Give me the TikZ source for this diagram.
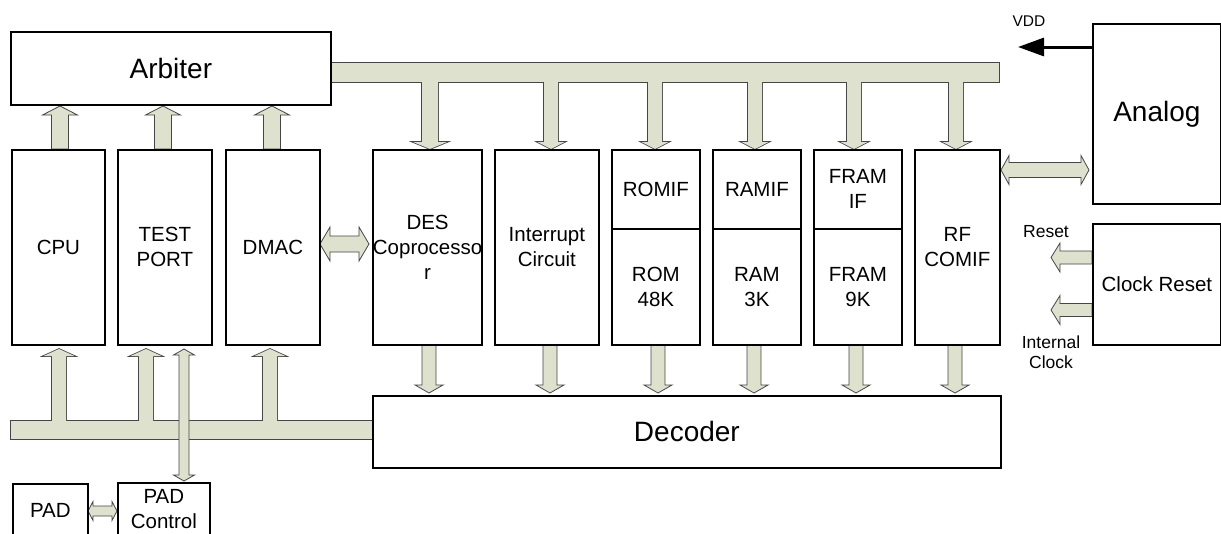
\documentclass[tikz,border=0pt]{standalone}
\usepackage{fontspec}
\setmainfont{Liberation Sans}
\usetikzlibrary{arrows.meta}
\definecolor{busfill}{RGB}{221,225,205}
\definecolor{busline}{RGB}{70,70,70}
% vertical fat arrow: x, ybase, yhead, ytip, shaft half, head half
\newcommand\varr[6]{(#1-#5,#2) -- (#1-#5,#3) -- (#1-#6,#3) -- (#1,#4) -- (#1+#6,#3) -- (#1+#5,#3) -- (#1+#5,#2) -- cycle}
% horizontal fat arrow: y, xbase, xhead, xtip, shaft half, head half
\newcommand\harr[6]{(#2,#1-#5) -- (#3,#1-#5) -- (#3,#1-#6) -- (#4,#1) -- (#3,#1+#6) -- (#3,#1+#5) -- (#2,#1+#5) -- cycle}
% horizontal double arrow: y, x1, x2, head length, shaft half, head half
\newcommand\hdarr[6]{(#2,#1) -- (#2+#4,#1-#6) -- (#2+#4,#1-#5) -- (#3-#4,#1-#5) -- (#3-#4,#1-#6) -- (#3,#1) -- (#3-#4,#1+#6) -- (#3-#4,#1+#5) -- (#2+#4,#1+#5) -- (#2+#4,#1+#6) -- cycle}
% vertical double arrow: x, y1, y2, head length, shaft half, head half
\newcommand\vdarr[6]{(#1,#2) -- (#1-#6,#2+#4) -- (#1-#5,#2+#4) -- (#1-#5,#3-#4) -- (#1-#6,#3-#4) -- (#1,#3) -- (#1+#6,#3-#4) -- (#1+#5,#3-#4) -- (#1+#5,#2+#4) -- (#1+#6,#2+#4) -- cycle}
\newcommand\topbus[1]{%
  \path[#1] (329,63) rectangle (999,82);
  \path[#1] \varr{430}{78}{142}{149}{8}{17};
  \foreach \xx in {551,655,755,854,956} {\path[#1] \varr{\xx}{78}{142}{149}{7}{13.5};}
}
\newcommand\lowbus[1]{%
  \path[#1] (11,421) rectangle (373,439);
  \foreach \xx in {59,146,270} {\path[#1] \varr{\xx}{425}{356}{349}{7}{15.5};}
}
\begin{document}
\begin{tikzpicture}[x=1pt,y=-1pt,
  box/.style={draw, line width=1.8pt, fill=white, inner sep=0pt, align=center,
    anchor=north west, font=\fontsize{20.5}{25}\selectfont},
  big/.style={font=\fontsize{28}{30}\selectfont},
  lbl/.style={font=\fontsize{15.5}{20}\selectfont, align=center, inner sep=0pt},
  lblb/.style={font=\fontsize{17.5}{20}\selectfont, align=center, inner sep=0pt},
  edgepass/.style={draw=busline, line width=1.6pt, fill=busline},
  fillpass/.style={fill=busfill},
  fat/.style={draw=busline, line width=0.8pt, fill=busfill, line join=miter}]
\useasboundingbox (0,0) rectangle (1221,533);
\clip (0,0) rectangle (1221,533);
\fill[white] (0,0) rectangle (1221,533);

% buses
\topbus{edgepass}
\topbus{fillpass}
\lowbus{edgepass}
\lowbus{fillpass}

% arrows up to arbiter
\foreach \xx in {60,163,272} {\path[fat] \varr{\xx}{149}{115}{106}{8.5}{17.5};}
% arrows down to decoder
\foreach \xx in {429,550,658,754,856,955} {\path[fat] \varr{\xx}{344}{385}{393}{7}{14};}
% test port <-> pad control
\path[fat] \vdarr{184}{349}{481}{6}{5}{10.5};
% dmac <-> des
\path[fat] \hdarr{244}{320}{369}{10}{8}{17};
% rf <-> analog
\path[fat] \hdarr{170}{1001}{1089}{8}{7.5}{14.5};
% pad <-> pad control
\path[fat] \hdarr{511}{88}{117}{5}{5}{9.5};
% clock reset outputs
\path[fat] \harr{257.5}{1092}{1060}{1051}{6.5}{14.5};
\path[fat] \harr{310}{1092}{1060}{1051}{6.5}{14.5};

% boxes
\node[box, big, minimum width=320, minimum height=73] (arb) at (10,31) {Arbiter};
\node[box, minimum width=93, minimum height=195] (cpu) at (11,149) {CPU};
\node[box, minimum width=94, minimum height=195] (test) at (117,149) {TEST\\PORT};
\node[box, minimum width=94, minimum height=195] (dmac) at (225,149) {DMAC};
\node[box, minimum width=109, minimum height=195] (des) at (372,149) {DES\\Coprocesso\\r};
\node[box, minimum width=104, minimum height=195] (intr) at (494,149) {Interrupt\\Circuit};
\node[box, minimum width=88, minimum height=79] (romif) at (611,149) {ROMIF};
\node[box, minimum width=88, minimum height=116] (rom) at (611,228) {ROM\\48K};
\node[box, minimum width=88, minimum height=79] (ramif) at (712,149) {RAMIF};
\node[box, minimum width=88, minimum height=116] (ram) at (712,228) {RAM\\3K};
\node[box, minimum width=88, minimum height=79] (framif) at (813,149) {FRAM\\IF};
\node[box, minimum width=88, minimum height=116] (fram) at (813,228) {FRAM\\9K};
\node[box, minimum width=85, minimum height=195] (rf) at (914,149) {RF\\COMIF};
\node[box, big, minimum width=128, minimum height=180] (analog) at (1092,23) {Analog};
\node[box, minimum width=128, minimum height=121] (clk) at (1092,223) {Clock Reset};
\node[box, big, minimum width=628, minimum height=72] (dec) at (372,395) {Decoder};
\node[box, minimum width=75, minimum height=54] (pad) at (12,483) {PAD};
\node[box, minimum width=92, minimum height=53] (padc) at (117,482) {PAD\\Control};

% VDD
\coordinate (vddtip) at (1018,47);
\draw[line width=3pt, -{Triangle[length=26pt,width=18pt]}] (analog.west |- vddtip) -- (vddtip);
\node[lbl] (vdd) at (1029,21) {VDD};
\node[lblb] (rst) at (1046,232) {Reset};
\node[lblb] (iclk) at (1051,352) {Internal\\Clock};
\end{tikzpicture}
\end{document}
